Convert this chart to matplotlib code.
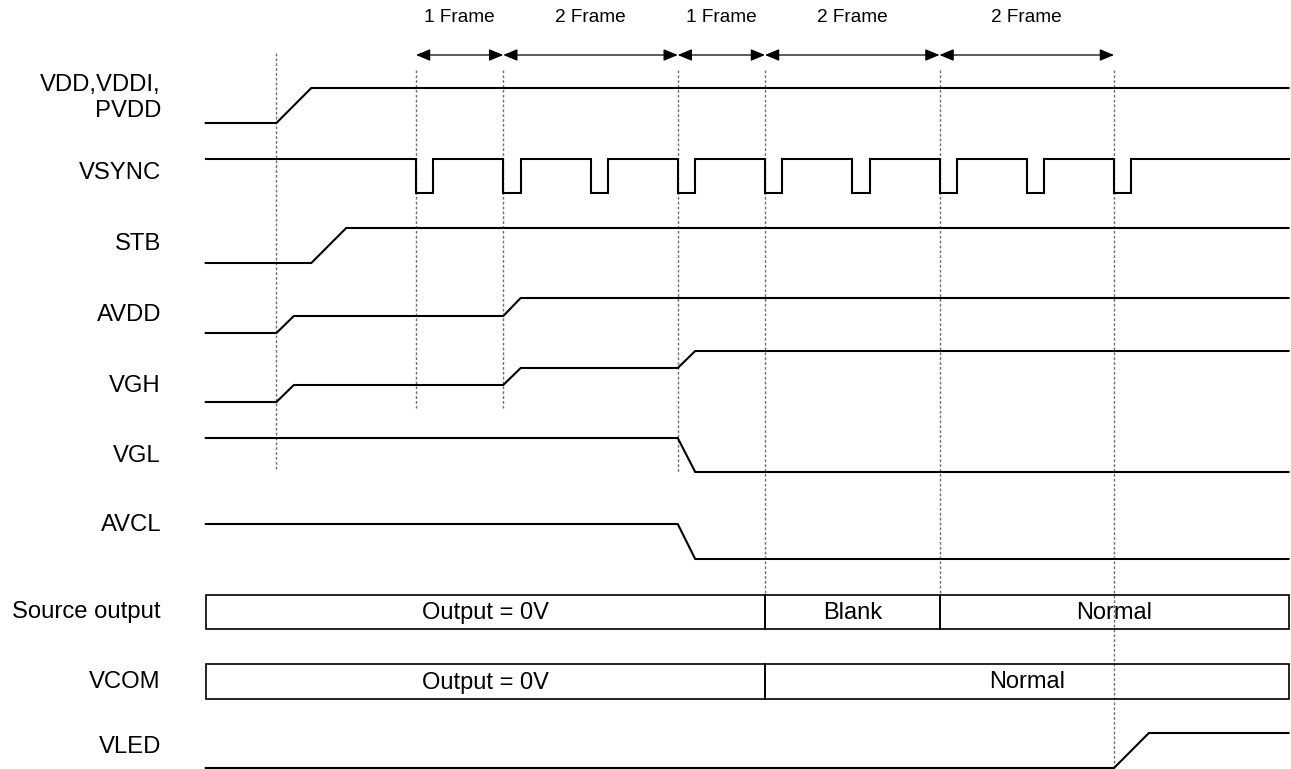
import numpy as np
import matplotlib
matplotlib.use('Agg')
import matplotlib.pyplot as plt
from matplotlib.patches import Rectangle, FancyArrowPatch

plt.rcParams['font.family'] = ['Liberation Sans', 'DejaVu Sans']

# time axis in frames, 0 = first VSYNC pulse after power on
T_START = -2.41
T_END = 10.0
FRAME_PX = 87.25
T0_PX = 416

# frame markers on top and their labels
frame_marks = [0, 1, 3, 4, 6, 8]
frame_labels = ["1 Frame", "2 Frame", "1 Frame", "2 Frame", "2 Frame"]

# vsync pulses (frame index) and pulse width
vsync_pulses = [0, 1, 2, 3, 4, 5, 6, 7, 8]
vsync_width = 0.2
vsync_levels = (159, 193)  # high, low

# waveforms: time points and levels
vdd_t = [T_START, -1.6, -1.2, T_END]
vdd_v = [123, 123, 88, 88]
stb_t = [T_START, -1.2, -0.8, T_END]
stb_v = [263, 263, 228, 228]
avdd_t = [T_START, -1.6, -1.4, 1.0, 1.2, T_END]
avdd_v = [333, 333, 316, 316, 298, 298]
vgh_t = [T_START, -1.6, -1.4, 1.0, 1.2, 3.0, 3.2, T_END]
vgh_v = [402, 402, 385, 385, 368, 368, 351, 351]
vgl_t = [T_START, 3.0, 3.2, T_END]
vgl_v = [438, 438, 472, 472]
avcl_t = [T_START, 3.0, 3.2, T_END]
avcl_v = [524, 524, 559, 559]
vled_t = [T_START, 8.0, 8.4, T_END]
vled_v = [768, 768, 733, 733]

# bus-style rows
source_seg = [(T_START, 4, "Output = 0V"), (4, 6, "Blank"), (6, T_END, "Normal")]
vcom_seg = [(T_START, 4, "Output = 0V"), (4, T_END, "Normal")]
source_rows = (595, 629)
vcom_rows = (664, 699)

# dotted guide lines: time, top, bottom
guides = [(-1.6, 53, 471), (0, 70, 408), (1, 70, 408), (3, 70, 472),
          (4, 70, 595), (6, 70, 595), (8, 70, 768)]

# signal names and vertical centers
names = ["VDD,VDDI,\nPVDD", "VSYNC", "STB", "AVDD", "VGH", "VGL", "AVCL",
         "Source output", "VCOM", "VLED"]
name_y = [98, 173, 244, 315, 386, 456, 525, 612, 682, 747]

fig = plt.figure(figsize=(12.91, 7.69), dpi=100)
ax = fig.add_axes([0, 0, 1, 1])
ax.set_xlim(-T0_PX / FRAME_PX, (1291 - T0_PX) / FRAME_PX)
ax.set_ylim(769, 0)
ax.axis('off')

lw = 1.5
# plain waveforms
for t, v in [(vdd_t, vdd_v), (stb_t, stb_v), (avdd_t, avdd_v), (vgh_t, vgh_v),
             (vgl_t, vgl_v), (avcl_t, avcl_v), (vled_t, vled_v)]:
    ax.plot(t, v, color='black', lw=lw, zorder=4, solid_joinstyle='miter')

# vsync
hi, lo = vsync_levels
vt = [T_START]
vv = [hi]
for p in vsync_pulses:
    vt += [p, p, p + vsync_width, p + vsync_width]
    vv += [hi, lo, lo, hi]
vt.append(T_END)
vv.append(hi)
ax.plot(vt, vv, color='black', lw=lw, zorder=4, solid_joinstyle='miter')

# bus rows
for segs, (top, bot) in [(source_seg, source_rows), (vcom_seg, vcom_rows)]:
    for a, b, txt in segs:
        ax.add_patch(Rectangle((a, top), b - a, bot - top, fill=False,
                               edgecolor='black', lw=1.2, zorder=4))
        ax.text((a + b) / 2, (top + bot) / 2 + 1, txt, ha='center', va='center',
                fontsize=17, zorder=2)

# guides
for t, y0, y1 in guides:
    ax.plot([t, t], [y0, y1], color='#707070', lw=1.0,
            linestyle=(0, (2, 1.5)), zorder=3)

# frame arrows
for i in range(len(frame_marks) - 1):
    a, b = frame_marks[i], frame_marks[i + 1]
    arr = FancyArrowPatch((a, 55), (b, 55),
                          arrowstyle="<|-|>,head_length=0.6,head_width=0.25",
                          mutation_scale=14.4, color='black', lw=0.9,
                          shrinkA=0, shrinkB=0, zorder=5)
    ax.add_patch(arr)
    ax.text((a + b) / 2, 18, frame_labels[i], ha='center', va='center',
            fontsize=13.7)

# names
label_x = (161 - T0_PX) / FRAME_PX
for n, y in zip(names, name_y):
    ax.text(label_x, y, n, ha='right', va='center', fontsize=17.2,
            multialignment='right', linespacing=1.2)

fig.savefig('out.png', dpi=100)
